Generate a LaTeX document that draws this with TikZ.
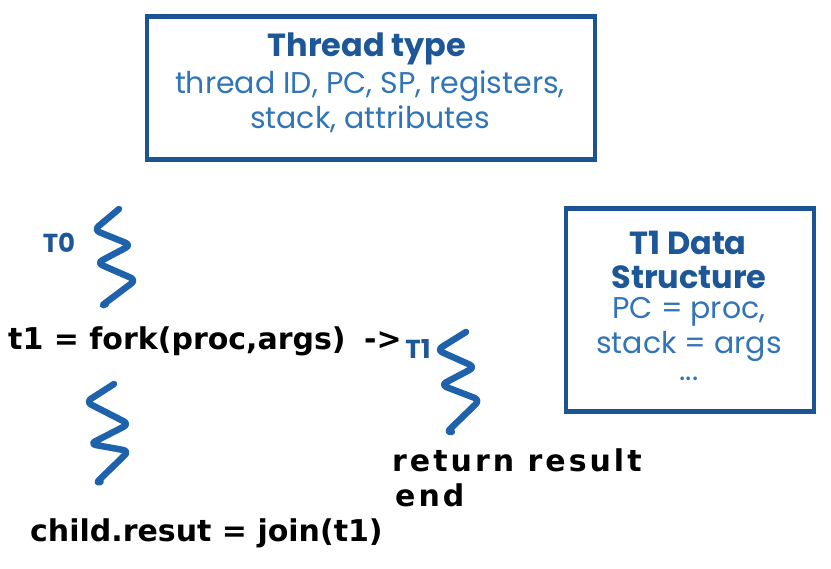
\documentclass[tikz,border=0pt]{standalone}
\usepackage{fontspec}
\setmainfont{Poppins}
\newfontfamily\handfont{DejaVu Sans}
\definecolor{boxblue}{HTML}{1C5493}
\definecolor{titleblue}{HTML}{1D5798}
\definecolor{bodyblue}{HTML}{3175B8}
\definecolor{squigblue}{HTML}{1F62AC}
\tikzset{
  bluebox/.style={draw=boxblue, line width=4.5pt, inner sep=0pt},
  titletext/.style={text=titleblue, font=\fontsize{32}{36}\selectfont\bfseries, inner sep=0pt},
  bodytext/.style={text=bodyblue, font=\fontsize{30}{36}\selectfont, inner sep=0pt},
  hand/.style={text=black, font=\handfont\bfseries\fontsize{30}{34}\selectfont, inner sep=0pt, anchor=base west},
  handwide/.style={hand, font=\handfont\bfseries\fontsize{30}{34}\selectfont\addfontfeature{LetterSpace=10}},
  tlabel/.style={text=titleblue, font=\fontsize{26}{30}\selectfont\bfseries, inner sep=0pt},
  squig/.style={draw=squigblue, line width=6.5pt, line cap=round, line join=round, rounded corners=6pt}
}
\begin{document}
\begin{tikzpicture}[x=1pt,y=-1pt]
\useasboundingbox (0,0) rectangle (831,569);
% top box
\node[bluebox, minimum width=448pt, minimum height=143pt] (tbox) at (371,88) {};
\node[titletext] (ttitle) at (367,49) {Thread type};
\node[bodytext] (tl1) at (370,86) {thread ID, PC, SP, registers,};
\node[bodytext] (tl2) at (370,119) {stack, attributes};
% right box
\node[bluebox, minimum width=248pt, minimum height=203pt] (dbox) at (690,310) {};
\node[titletext] (d1) at (688,243) {T1 Data};
\node[titletext] (d2) at (689,277) {Structure};
\node[bodytext] (d3) at (689,312) {PC = proc,};
\node[bodytext] (d4) at (689,346) {stack = args};
\node[bodytext] (d5) at (689,379) {...};
% labels
\node[tlabel] (t0) at (59,243) {T0};
\node[tlabel] (t1) at (418,349) {T1};
% squiggles
\draw[squig] (119,209) -- (94,230) -- (131,245) -- (97,263) -- (136,280) -- (100,307) -- (106,304);
\draw[squig] (114,384) -- (86,402) -- (129,424) -- (90,444) -- (129,451) -- (95,484) -- (100,482);
\draw[squig] (466,332) -- (437,350) -- (475,367) -- (441,385) -- (480,400) -- (446,433) -- (451,432);
% handwriting
\node[hand] (fork) at (8,350) {t1 = fork(proc,args)};
\node[hand] (arrow) at (364,350) {->};
\node[hand] (join) at (30,542) {child.resut = join(t1)};
\node[handwide] (ret) at (392,472) {return result};
\node[handwide] (endt) at (395,507) {end};
\end{tikzpicture}
\end{document}
